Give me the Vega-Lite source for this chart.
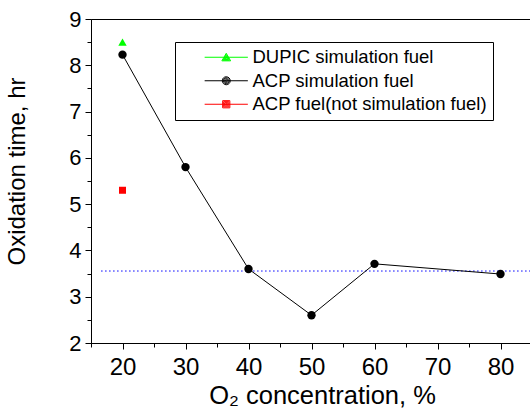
{
  "$schema": "https://vega.github.io/schema/vega-lite/v6.json",
  "width": 441,
  "height": 324,
  "autosize": {"type": "none"},
  "padding": {"left": 91, "top": 19, "right": 0, "bottom": 67},
  "background": "white",
  "config": {
    "view": {"stroke": "black", "strokeWidth": 1},
    "font": "Liberation Sans"
  },
  "datasets": {
    "pts": [
      {"series": "DUPIC simulation fuel", "x": 20, "y": 8.5},
      {"series": "ACP simulation fuel", "x": 20, "y": 8.23},
      {"series": "ACP simulation fuel", "x": 30, "y": 5.8},
      {"series": "ACP simulation fuel", "x": 40, "y": 3.6},
      {"series": "ACP simulation fuel", "x": 50, "y": 2.6},
      {"series": "ACP simulation fuel", "x": 60, "y": 3.71},
      {"series": "ACP simulation fuel", "x": 80, "y": 3.49},
      {"series": "ACP fuel(not simulation fuel)", "x": 20, "y": 5.3}
    ],
    "ref": [
      {"x": 16.6, "x2": 85, "y": 3.555}
    ]
  },
  "encoding": {
    "x": {
      "field": "x", "type": "quantitative",
      "scale": {"domain": [15, 85], "nice": false, "zero": false},
      "axis": {
        "title": "O₂ concentration, %",
        "values": [15, 20, 25, 30, 35, 40, 45, 50, 55, 60, 65, 70, 75, 80, 85],
        "labelExpr": "datum.value % 10 === 0 ? format(datum.value, 'd') : ''",
        "tickSize": {"condition": {"test": "datum.value % 10 === 0", "value": 6}, "value": 4},
        "grid": false, "domainColor": "black", "tickColor": "black",
        "labelColor": "black", "titleColor": "black",
        "labelFont": "Liberation Sans", "titleFont": "Liberation Sans",
        "labelFontSize": 24, "titleFontSize": 25.5, "titleFontWeight": "normal",
        "labelPadding": 6, "titlePadding": 4, "labelFlush": false, "labelOverlap": false,
        "titleX": 231
      }
    },
    "y": {
      "field": "y", "type": "quantitative",
      "scale": {"domain": [2, 9], "nice": false, "zero": false},
      "axis": {
        "title": "Oxidation time, hr",
        "values": [2, 2.5, 3, 3.5, 4, 4.5, 5, 5.5, 6, 6.5, 7, 7.5, 8, 8.5, 9],
        "labelExpr": "datum.value % 1 === 0 ? format(datum.value, 'd') : ''",
        "tickSize": {"condition": {"test": "datum.value % 1 === 0", "value": 6}, "value": 4},
        "grid": false, "domainColor": "black", "tickColor": "black",
        "labelColor": "black", "titleColor": "black",
        "labelFont": "Liberation Sans", "titleFont": "Liberation Sans",
        "labelFontSize": 22, "titleFontSize": 24, "titleFontWeight": "normal",
        "labelPadding": 4, "labelOverlap": false,
        "titleY": 152, "titleX": -62
      }
    }
  },
  "layer": [
    {
      "data": {"name": "ref"},
      "mark": {"type": "rule", "color": "#0000ff", "strokeWidth": 1, "strokeDash": [1.5, 2.5]},
      "encoding": {"x2": {"field": "x2"}}
    },
    {
      "data": {"name": "pts"},
      "transform": [{"filter": "datum.series === 'ACP simulation fuel'"}],
      "mark": {"type": "line", "color": "black", "strokeWidth": 1}
    },
    {
      "data": {"name": "pts"},
      "mark": {"type": "point", "filled": false, "opacity": 0, "size": 64, "strokeWidth": 1},
      "encoding": {
        "color": {
          "field": "series", "type": "nominal",
          "scale": {"domain": ["DUPIC simulation fuel", "ACP simulation fuel", "ACP fuel(not simulation fuel)"], "range": ["#00ff00", "#000000", "#ff0000"]},
          "legend": {
            "orient": "none", "legendX": 84, "legendY": 23, "title": null,
            "strokeColor": "black", "fillColor": "white", "padding": 6,
            "labelFont": "Liberation Sans", "labelFontSize": 18.5, "labelColor": "black",
            "labelLimit": 0,
            "symbolSize": 64, "symbolOffset": 36, "labelOffset": 17, "rowPadding": 4.5,
            "symbolStrokeWidth": 1, "symbolOpacity": 1, "symbolFillColor": "transparent",
            "labelExpr": "datum.label + '\u00a0\u00a0\u00a0\u00a0\u00a0\u00a0\u00a0\u00a0\u00a0\u00a0\u00a0\u00a0\u00a0\u00a0\u00a0\u00a0\u00a0'"
          }
        },
        "shape": {
          "field": "series", "type": "nominal",
          "scale": {
            "domain": ["DUPIC simulation fuel", "ACP simulation fuel", "ACP fuel(not simulation fuel)"],
            "range": [
              "M-5.4,0H5.4M-1.1,0.9L0,-1L1.1,0.9ZM-0.825,0.742L0,-0.683L0.825,0.742ZM-0.55,0.583L0,-0.367L0.55,0.583ZM-0.275,0.425L0,-0.05L0.275,0.425Z",
              "M-5.4,0H5.4M-1,0A1,1 0 1,0 1,0A1,1 0 1,0 -1,0ZM-0.75,0A0.75,0.75 0 1,0 0.75,0A0.75,0.75 0 1,0 -0.75,0ZM-0.5,0A0.5,0.5 0 1,0 0.5,0A0.5,0.5 0 1,0 -0.5,0ZM-0.25,0A0.25,0.25 0 1,0 0.25,0A0.25,0.25 0 1,0 -0.25,0Z",
              "M-5.4,0H5.4M-0.9,-0.9H0.9V0.9H-0.9ZM-0.65,-0.65H0.65V0.65H-0.65ZM-0.4,-0.4H0.4V0.4H-0.4ZM-0.15,-0.15H0.15V0.15H-0.15Z"
            ]
          }
        }
      }
    },
    {
      "data": {"name": "pts"},
      "transform": [{"filter": "datum.series === 'DUPIC simulation fuel'"}],
      "mark": {"type": "point", "shape": "triangle-up", "filled": true, "opacity": 1, "size": 70, "color": "#00ff00"}
    },
    {
      "data": {"name": "pts"},
      "transform": [{"filter": "datum.series === 'ACP simulation fuel'"}],
      "mark": {"type": "point", "shape": "circle", "filled": true, "opacity": 1, "size": 70, "color": "#000000"}
    },
    {
      "data": {"name": "pts"},
      "transform": [{"filter": "datum.series === 'ACP fuel(not simulation fuel)'"}],
      "mark": {"type": "point", "shape": "square", "filled": true, "opacity": 1, "size": 49, "color": "#ff0000"}
    }
  ]
}
